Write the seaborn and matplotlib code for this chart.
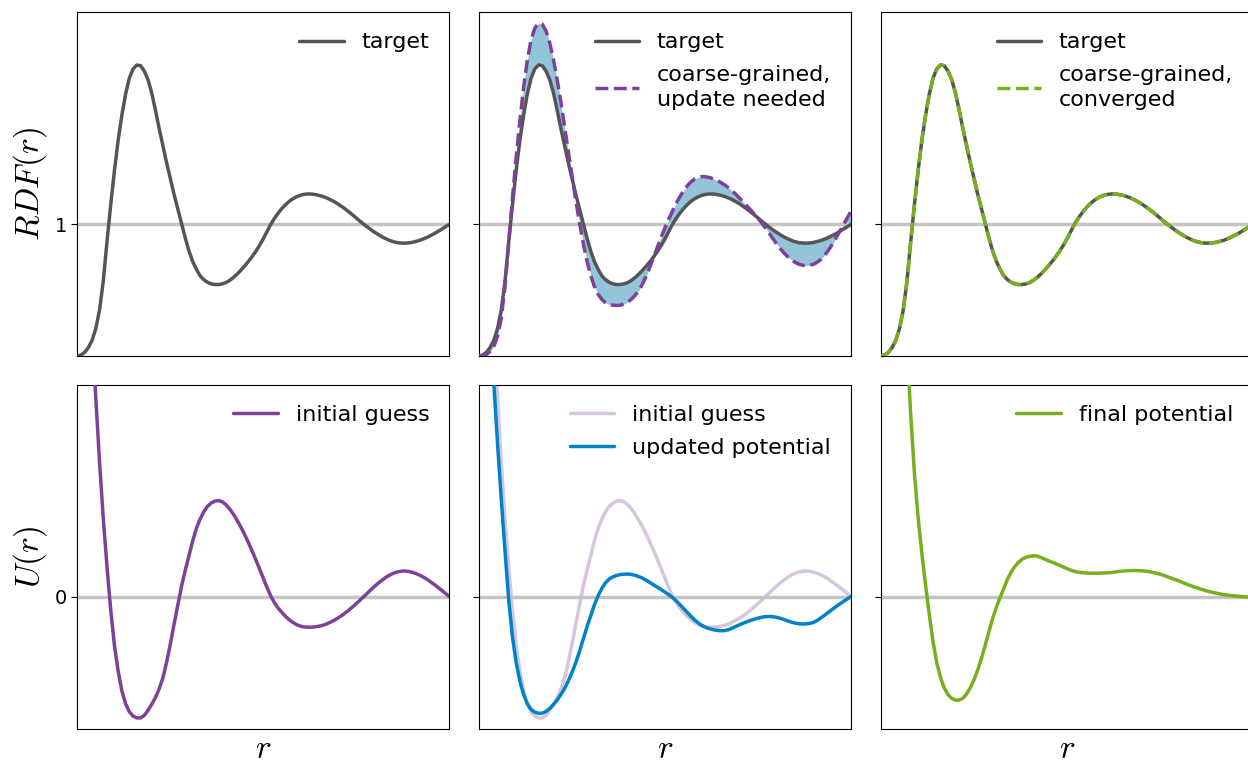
import matplotlib
matplotlib.use("Agg")
import matplotlib.pyplot as plt
import numpy as np
import pandas as pd
import seaborn as sns

# ---------------------------------------------------------------------------
# Common r grid (reduced units, 0..1, step 0.01)
# ---------------------------------------------------------------------------
r = [0.00, 0.01, 0.02, 0.03, 0.04, 0.05, 0.06, 0.07, 0.08, 0.09,
     0.10, 0.11, 0.12, 0.13, 0.14, 0.15, 0.16, 0.17, 0.18, 0.19,
     0.20, 0.21, 0.22, 0.23, 0.24, 0.25, 0.26, 0.27, 0.28, 0.29,
     0.30, 0.31, 0.32, 0.33, 0.34, 0.35, 0.36, 0.37, 0.38, 0.39,
     0.40, 0.41, 0.42, 0.43, 0.44, 0.45, 0.46, 0.47, 0.48, 0.49,
     0.50, 0.51, 0.52, 0.53, 0.54, 0.55, 0.56, 0.57, 0.58, 0.59,
     0.60, 0.61, 0.62, 0.63, 0.64, 0.65, 0.66, 0.67, 0.68, 0.69,
     0.70, 0.71, 0.72, 0.73, 0.74, 0.75, 0.76, 0.77, 0.78, 0.79,
     0.80, 0.81, 0.82, 0.83, 0.84, 0.85, 0.86, 0.87, 0.88, 0.89,
     0.90, 0.91, 0.92, 0.93, 0.94, 0.95, 0.96, 0.97, 0.98, 0.99,
     1.00]

# Radial distribution functions
rdf_target = [0.000, 0.008, 0.028, 0.065, 0.12, 0.21, 0.35, 0.57, 0.87, 1.15,
              1.41, 1.64, 1.83, 1.99, 2.11, 2.18, 2.21, 2.205, 2.165, 2.10,
              2.00, 1.87, 1.73, 1.60, 1.47, 1.35, 1.23, 1.12, 1.01, 0.90,
              0.80, 0.72, 0.66, 0.61, 0.58, 0.56, 0.548, 0.543, 0.543, 0.548,
              0.558, 0.575, 0.597, 0.623, 0.652, 0.684, 0.718, 0.755, 0.795, 0.84,
              0.89, 0.945, 1.00, 1.045, 1.085, 1.12, 1.15, 1.175, 1.195, 1.21,
              1.221, 1.228, 1.231, 1.23, 1.226, 1.22, 1.212, 1.201, 1.188, 1.173,
              1.156, 1.137, 1.117, 1.095, 1.072, 1.048, 1.024, 1.001, 0.979, 0.958,
              0.939, 0.921, 0.904, 0.89, 0.877, 0.868, 0.861, 0.858, 0.857, 0.859,
              0.863, 0.87, 0.878, 0.889, 0.901, 0.915, 0.930, 0.947, 0.964, 0.982,
              1.000]

rdf_cg_update = [0.000, 0.003, 0.012, 0.035, 0.075, 0.15, 0.29, 0.53, 0.86, 1.20,
                 1.51, 1.79, 2.04, 2.25, 2.40, 2.49, 2.527, 2.52, 2.47, 2.38,
                 2.255, 2.10, 1.93, 1.745, 1.555, 1.37, 1.185, 1.015, 0.86, 0.725,
                 0.615, 0.53, 0.47, 0.43, 0.405, 0.392, 0.386, 0.384, 0.386, 0.395,
                 0.41, 0.432, 0.462, 0.50, 0.55, 0.61, 0.68, 0.755, 0.83, 0.905,
                 0.975, 1.04, 1.10, 1.16, 1.21, 1.255, 1.293, 1.323, 1.345, 1.358,
                 1.363, 1.361, 1.355, 1.346, 1.334, 1.318, 1.30, 1.279, 1.255, 1.229,
                 1.20, 1.17, 1.14, 1.11, 1.078, 1.045, 1.01, 0.972, 0.932, 0.892,
                 0.852, 0.815, 0.782, 0.754, 0.73, 0.711, 0.697, 0.689, 0.686, 0.689,
                 0.698, 0.714, 0.737, 0.768, 0.806, 0.85, 0.898, 0.948, 0.998, 1.049,
                 1.10]

rdf_cg_converged = [0.000, 0.008, 0.028, 0.065, 0.12, 0.21, 0.35, 0.57, 0.87, 1.15,
                    1.41, 1.64, 1.83, 1.99, 2.11, 2.18, 2.21, 2.205, 2.165, 2.10,
                    2.00, 1.87, 1.73, 1.60, 1.47, 1.35, 1.23, 1.12, 1.01, 0.90,
                    0.80, 0.72, 0.66, 0.61, 0.58, 0.56, 0.548, 0.543, 0.543, 0.548,
                    0.558, 0.575, 0.597, 0.623, 0.652, 0.684, 0.718, 0.755, 0.795, 0.84,
                    0.89, 0.945, 1.00, 1.045, 1.085, 1.12, 1.15, 1.175, 1.195, 1.21,
                    1.221, 1.228, 1.231, 1.23, 1.226, 1.22, 1.212, 1.201, 1.188, 1.173,
                    1.156, 1.137, 1.117, 1.095, 1.072, 1.048, 1.024, 1.001, 0.979, 0.958,
                    0.939, 0.921, 0.904, 0.89, 0.877, 0.868, 0.861, 0.858, 0.857, 0.859,
                    0.863, 0.87, 0.878, 0.889, 0.901, 0.915, 0.930, 0.947, 0.964, 0.982,
                    1.000]

# Pair potentials (NaN where the repulsive wall is far above the plotted range)
u_initial = [np.nan, np.nan, np.nan, 2.85, 2.18, 1.61, 1.09, 0.636, 0.24, -0.11,
             -0.40, -0.61, -0.77, -0.875, -0.94, -0.975, -0.99, -0.99, -0.97, -0.93,
             -0.88, -0.825, -0.755, -0.665, -0.54, -0.39, -0.23, -0.075, 0.08, 0.21,
             0.33, 0.45, 0.554, 0.63, 0.69, 0.735, 0.762, 0.778, 0.782, 0.772,
             0.748, 0.713, 0.67, 0.62, 0.565, 0.505, 0.44, 0.372, 0.30, 0.225,
             0.15, 0.075, 0.005, -0.05, -0.095, -0.13, -0.163, -0.19, -0.212, -0.23,
             -0.242, -0.248, -0.25, -0.25, -0.247, -0.242, -0.235, -0.224, -0.21, -0.195,
             -0.177, -0.157, -0.135, -0.111, -0.085, -0.058, -0.03, -0.001, 0.028, 0.057,
             0.085, 0.111, 0.135, 0.157, 0.175, 0.19, 0.200, 0.206, 0.208, 0.205,
             0.198, 0.188, 0.175, 0.159, 0.14, 0.119, 0.097, 0.074, 0.05, 0.025,
             0.00]

u_updated = [np.nan, np.nan, np.nan, 2.25, 1.73, 1.24, 0.79, 0.37, -0.03, -0.33,
             -0.54, -0.69, -0.80, -0.875, -0.92, -0.943, -0.952, -0.951, -0.938, -0.913,
             -0.882, -0.845, -0.80, -0.75, -0.69, -0.62, -0.54, -0.45, -0.35, -0.25,
             -0.16, -0.07, 0.005, 0.065, 0.112, 0.142, 0.16, 0.172, 0.179, 0.182,
             0.183, 0.18, 0.173, 0.162, 0.149, 0.132, 0.113, 0.094, 0.075, 0.056,
             0.036, 0.015, -0.008, -0.035, -0.066, -0.098, -0.13, -0.162, -0.192, -0.217,
             -0.237, -0.252, -0.263, -0.271, -0.276, -0.279, -0.278, -0.271, -0.259, -0.245,
             -0.231, -0.218, -0.206, -0.195, -0.185, -0.176, -0.169, -0.164, -0.163, -0.165,
             -0.17, -0.178, -0.188, -0.199, -0.209, -0.217, -0.222, -0.224, -0.223, -0.219,
             -0.21, -0.193, -0.172, -0.15, -0.127, -0.104, -0.081, -0.06, -0.04, -0.02,
             0.00]

u_final = [np.nan, np.nan, np.nan, np.nan, np.nan, np.nan, 2.60, 2.05, 1.48, 1.00,
           0.64, 0.35, 0.09, -0.15, -0.37, -0.54, -0.66, -0.745, -0.80, -0.83,
           -0.845, -0.845, -0.83, -0.795, -0.745, -0.68, -0.60, -0.505, -0.40, -0.29,
           -0.18, -0.09, -0.01, 0.065, 0.14, 0.20, 0.245, 0.28, 0.305, 0.32,
           0.328, 0.332, 0.33, 0.318, 0.305, 0.292, 0.28, 0.268, 0.255, 0.241,
           0.228, 0.215, 0.205, 0.199, 0.195, 0.192, 0.19, 0.19, 0.19, 0.191,
           0.192, 0.194, 0.196, 0.2, 0.204, 0.207, 0.21, 0.211, 0.212, 0.211,
           0.21, 0.207, 0.203, 0.197, 0.19, 0.182, 0.172, 0.161, 0.15, 0.139,
           0.128, 0.116, 0.103, 0.091, 0.08, 0.07, 0.06, 0.051, 0.042, 0.035,
           0.028, 0.022, 0.016, 0.012, 0.008, 0.005, 0.002, 0.0, -0.003, -0.004,
           -0.005]

# ---------------------------------------------------------------------------
# Styling
# ---------------------------------------------------------------------------
C_TARGET = "#555555"
C_PURPLE = "#7d4199"
C_BLUE = "#0082c8"
C_GREEN = "#78af1e"
C_FILL = "#94c4da"
C_REF = "#c4c4c4"
LW = 2.5

sns.set_style("ticks")
plt.rcParams["font.family"] = ["DejaVu Sans"]
plt.rcParams["mathtext.fontset"] = "cm"
for key in ("text.color", "axes.labelcolor", "xtick.color", "ytick.color"):
    plt.rcParams[key] = "black"

df = pd.DataFrame({"r": r,
                   "target": rdf_target,
                   "cg_update": rdf_cg_update,
                   "cg_converged": rdf_cg_converged,
                   "initial": u_initial,
                   "updated": u_updated,
                   "final": u_final})

fig = plt.figure(figsize=(12.48, 7.65), dpi=100)
W = 0.2981
lefts = [0.0619, 0.3838, 0.7059]
top_axes = [fig.add_axes([l, 0.5346, W, 0.4493]) for l in lefts]
bot_axes = [fig.add_axes([l, 0.0471, W, 0.4497]) for l in lefts]


def line(ax, col, color, label, **kw):
    sns.lineplot(data=df, x="r", y=col, ax=ax, color=color, lw=LW,
                 label=label, estimator=None, **kw)


# --- top row: RDFs -----------------------------------------------------------
ax = top_axes[0]
ax.axhline(1, color=C_REF, lw=LW, zorder=1.5)
line(ax, "target", C_TARGET, "target", zorder=3)

ax = top_axes[1]
ax.axhline(1, color=C_REF, lw=LW, zorder=1.5)
ax.fill_between(df["r"], df["target"], df["cg_update"], color=C_FILL,
                lw=0, zorder=1)
line(ax, "target", C_TARGET, "target", zorder=3)
line(ax, "cg_update", C_PURPLE, "coarse-grained,\nupdate needed",
     linestyle="--", zorder=4)

ax = top_axes[2]
ax.axhline(1, color=C_REF, lw=LW, zorder=1.5)
line(ax, "target", C_TARGET, "target", zorder=3)
line(ax, "cg_converged", C_GREEN, "coarse-grained,\nconverged",
     linestyle="--", zorder=4)

# --- bottom row: potentials ---------------------------------------------------
ax = bot_axes[0]
ax.axhline(0, color=C_REF, lw=LW, zorder=1.5)
line(ax, "initial", C_PURPLE, "initial guess", zorder=3)

ax = bot_axes[1]
ax.axhline(0, color=C_REF, lw=LW, zorder=1.5)
line(ax, "initial", C_PURPLE, "initial guess", alpha=0.3, zorder=1)
line(ax, "updated", C_BLUE, "updated potential", zorder=3)

ax = bot_axes[2]
ax.axhline(0, color=C_REF, lw=LW, zorder=1.5)
line(ax, "final", C_GREEN, "final potential", zorder=3)

# --- axes cosmetics ----------------------------------------------------------
for i, ax in enumerate(top_axes + bot_axes):
    top = i < 3
    ax.set_xlim(0, 1)
    ax.set_xticks([])
    if top:
        ax.set_ylim(0, 2.61)
        ax.set_yticks([1])
    else:
        ax.set_ylim(-1.08, 1.725)
        ax.set_yticks([0])
    if i % 3 == 0:
        ax.set_yticklabels(["1"] if top else ["0"])
        ax.set_ylabel(r"$RDF(r)$" if top else r"$U(r)$", fontsize=24)
    else:
        ax.set_yticklabels([])
        ax.set_ylabel("")
    ax.set_xlabel("" if top else r"$r$", fontsize=24, labelpad=2)
    ax.tick_params(axis="y", labelsize=14, length=4, width=0.8, direction="out")
    for s in ax.spines.values():
        s.set_color("black")
        s.set_linewidth(0.8)
    leg = ax.legend(loc="upper right", frameon=False, fontsize=16,
                    labelspacing=0.58)
    for t in leg.get_texts():
        t.set_linespacing(1.3)

fig.savefig("out.png", dpi=100)
